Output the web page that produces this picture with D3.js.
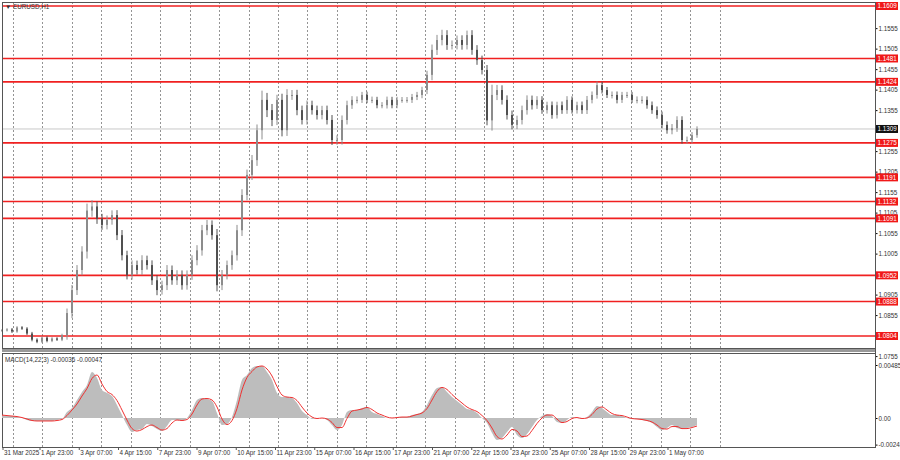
<!DOCTYPE html>
<html><head><meta charset="utf-8">
<script src="https://cdn.jsdelivr.net/npm/d3@7"></script>
<style>body{margin:0;background:#fff}svg{display:block}text{font-family:"Liberation Sans",Arial,sans-serif;font-size:6.3px}</style>
</head><body><svg id="c" width="900" height="460"></svg>
<script>
const closes=[1.0818,1.0820,1.0815,1.0825,1.0822,1.0810,1.0795,1.0790,1.0800,1.0792,1.0798,1.0795,1.0806,1.0860,1.0916,1.0965,1.1010,1.1110,1.1120,1.1090,1.1075,1.1087,1.1099,1.1050,1.1001,1.0953,1.0977,1.0965,1.0989,1.0977,1.0940,1.0916,1.0928,1.0965,1.0940,1.0953,1.0928,1.0953,1.0989,1.1013,1.1062,1.1075,1.1050,1.0928,1.0953,1.0977,1.1001,1.1062,1.1148,1.1197,1.1233,1.1306,1.1380,1.1355,1.1331,1.1380,1.1306,1.1392,1.1392,1.1355,1.1331,1.1367,1.1355,1.1343,1.1355,1.1331,1.1282,1.1282,1.1331,1.1367,1.1380,1.1380,1.1392,1.1380,1.1380,1.1367,1.1367,1.1380,1.1367,1.1380,1.1380,1.1380,1.1387,1.1392,1.1404,1.1441,1.1502,1.1526,1.1538,1.1514,1.1514,1.1526,1.1514,1.1538,1.1502,1.1477,1.1453,1.1330,1.1392,1.1404,1.1380,1.1343,1.1319,1.1331,1.1355,1.1380,1.1367,1.1380,1.1355,1.1367,1.1343,1.1367,1.1355,1.1380,1.1355,1.1367,1.1355,1.1380,1.1392,1.1416,1.1404,1.1392,1.1392,1.1380,1.1392,1.1392,1.1380,1.1380,1.1380,1.1367,1.1355,1.1343,1.1319,1.1306,1.1311,1.1331,1.1282,1.1282,1.1294,1.1309];
const wicks=[6,6,7,6,6,7,8,7,6,7,6,6,7,22,25,24,26,34,30,25,24,22,23,24,25,22,23,22,24,22,23,25,22,24,22,23,22,22,24,25,26,24,22,30,24,22,23,26,28,26,25,28,45,34,30,25,30,28,24,25,22,23,22,22,21,22,24,23,22,22,18,17,15,16,16,15,15,16,15,15,14,14,15,15,16,20,26,25,26,24,22,22,23,22,24,23,22,24,50,25,23,22,22,21,22,22,21,18,18,17,18,17,18,18,17,17,18,19,17,18,17,15,17,17,15,15,15,17,18,17,18,18,17,17,20,18,18,17,15,13];
const macdPts=[27,18,18,9,0,-18,-27,-27,-27,-27,-27,-18,-9,55,92,165,238,302,421,366,256,229,201,119,27,-64,-128,-110,-101,-55,-73,-101,-119,-73,-18,-18,-27,0,73,165,183,174,156,46,-64,-55,9,165,348,393,458,476,476,421,348,229,192,192,183,137,64,27,-9,0,0,-18,-64,-110,-64,55,73,73,92,101,55,37,18,0,0,9,9,9,27,37,55,119,210,275,284,238,192,156,119,82,73,46,0,-46,-137,-201,-183,-128,-82,-156,-183,-146,-82,-18,18,37,18,-37,-46,-18,9,0,-9,9,55,110,92,55,27,27,18,0,-9,-9,-18,-27,-46,-82,-110,-92,-64,-92,-101,-92,-82,-64];
const levels=[1.1609,1.1481,1.1424,1.1275,1.1191,1.1132,1.1091,1.0952,1.0888,1.0804];
const priceTicks=[1.1555,1.1505,1.1455,1.1405,1.1355,1.1255,1.1205,1.1155,1.1105,1.1055,1.1005,1.0905,1.0855,1.0755];
const timeLabels=["31 Mar 2025","1 Apr 23:00","3 Apr 07:00","4 Apr 15:00","7 Apr 23:00","9 Apr 07:00","10 Apr 15:00","11 Apr 23:00","15 Apr 07:00","16 Apr 15:00","17 Apr 23:00","21 Apr 07:00","22 Apr 15:00","23 Apr 23:00","25 Apr 07:00","28 Apr 15:00","29 Apr 23:00","1 May 07:00"];
const lastPrice=1.1309;
const macdTicks=[0.00485,0,-0.00243];
const macdLabel="MACD(14,22,3) -0.00036 -0.00047";

const svg=d3.select("#c");
const L=2,R=875,T=2,B=348,MT=353,MB=447;
const y=d3.scaleLinear().domain([1.1609,1.0804]).range([6,336]);
const ym=d3.scaleLinear().domain([0.00485,-0.00243]).range([365,444.6]);
const xc=d3.scaleLinear().domain([0,closes.length-1]).range([2,697]);
const xh=d3.scaleLinear().domain([0,1]).range([2,3.2265]);

const g=svg.append("g");
for(let k=0;k<=24;k++){const x=Math.round(xh(9+24*k))+0.5;
 [[T,B],[MT,MB]].forEach(([a,b])=>g.append("line").attr("x1",x).attr("x2",x).attr("y1",a).attr("y2",b).attr("stroke","#666").attr("stroke-dasharray","2,2").attr("stroke-width",0.7));}
svg.append("line").attr("x1",L).attr("x2",R).attr("y1",y(lastPrice)).attr("y2",y(lastPrice)).attr("stroke","#c8c8c8").attr("stroke-width",1);
levels.forEach(v=>svg.append("line").attr("x1",L).attr("x2",R).attr("y1",y(v)).attr("y2",y(v)).attr("stroke","#f02020").attr("stroke-width",1.6));
const cw=2;
closes.forEach((c,i)=>{const o=i?closes[i-1]:c;const w=(wicks[i]??10)*0.0001*0.5;
 const hi=Math.max(o,c)+w,lo=Math.min(o,c)-w;const x=xc(i);const col=c>=o?"#8c8c8c":"#505050";
 svg.append("line").attr("x1",x).attr("x2",x).attr("y1",y(hi)).attr("y2",y(lo)).attr("stroke",col).attr("stroke-width",1);
 svg.append("rect").attr("x",x-cw/2).attr("width",cw).attr("y",y(Math.max(o,c))).attr("height",Math.max(1,Math.abs(y(o)-y(c)))).attr("fill",col);});
svg.append("rect").attr("x",L+0.5).attr("y",T+0.5).attr("width",R-L).attr("height",B-T).attr("fill","none").attr("stroke","#555");
svg.append("rect").attr("x",L+0.5).attr("y",MT+0.5).attr("width",R-L).attr("height",MB-MT).attr("fill","none").attr("stroke","#555");
svg.append("rect").attr("x",L).attr("y",B+1).attr("width",R-L).attr("height",3).attr("fill","#999");
const ax=svg.append("g").attr("transform",`translate(${R+0.5},0)`).call(d3.axisRight(y).tickValues(priceTicks).tickSize(2).tickFormat(d3.format(".4f")));
ax.select(".domain").remove();ax.selectAll("text").attr("fill","#333").attr("x",3).style("font-size","6.3px");
levels.forEach(v=>{svg.append("rect").attr("x",R+1).attr("y",y(v)-4).attr("width",22).attr("height",8).attr("fill","#f01818");
 svg.append("text").attr("x",R+2.5).attr("y",y(v)+2.3).attr("fill","#fff").text(v.toFixed(4));});
svg.append("rect").attr("x",R+1).attr("y",y(lastPrice)-4).attr("width",22).attr("height",8).attr("fill","#111");
svg.append("text").attr("x",R+2.5).attr("y",y(lastPrice)+2.3).attr("fill","#fff").text(lastPrice.toFixed(4));
svg.append("text").attr("x",5).attr("y",9).attr("fill","#333").text("▼ EURUSD,H1");
const mv=macdPts.map(d=>d*1e-5);
svg.append("path").attr("d",d3.area().x((d,i)=>xc(i)).y0(ym(0)).y1(d=>ym(d)).curve(d3.curveMonotoneX)(mv)).attr("fill","#bdbdbd");
const sig=mv.map((d,i)=>d3.mean(mv.slice(Math.max(0,i-1),i+1)));
svg.append("path").attr("d",d3.line().x((d,i)=>xc(i)).y(d=>ym(d)).curve(d3.curveMonotoneX)(sig)).attr("fill","none").attr("stroke","#f03030").attr("stroke-width",1);
const am=svg.append("g").attr("transform",`translate(${R+0.5},0)`).call(d3.axisRight(ym).tickValues(macdTicks).tickSize(2).tickFormat(d=>d===0?"0.00":d.toFixed(5)));
am.select(".domain").remove();am.selectAll("text").attr("fill","#333").attr("x",3).style("font-size","6.3px");
svg.append("text").attr("x",5).attr("y",362).attr("fill","#333").text(macdLabel);
svg.append("line").attr("x1",R+0.5).attr("x2",R+0.5).attr("y1",T).attr("y2",MB).attr("stroke","#555");
timeLabels.forEach((t,k)=>{const x=k===0?3:xh(31+32*(k-1));
 svg.append("line").attr("x1",x).attr("x2",x).attr("y1",MB).attr("y2",MB+3).attr("stroke","#555");
 svg.append("text").attr("x",x+1).attr("y",455).attr("fill","#333").text(t);});
</script></body></html>
